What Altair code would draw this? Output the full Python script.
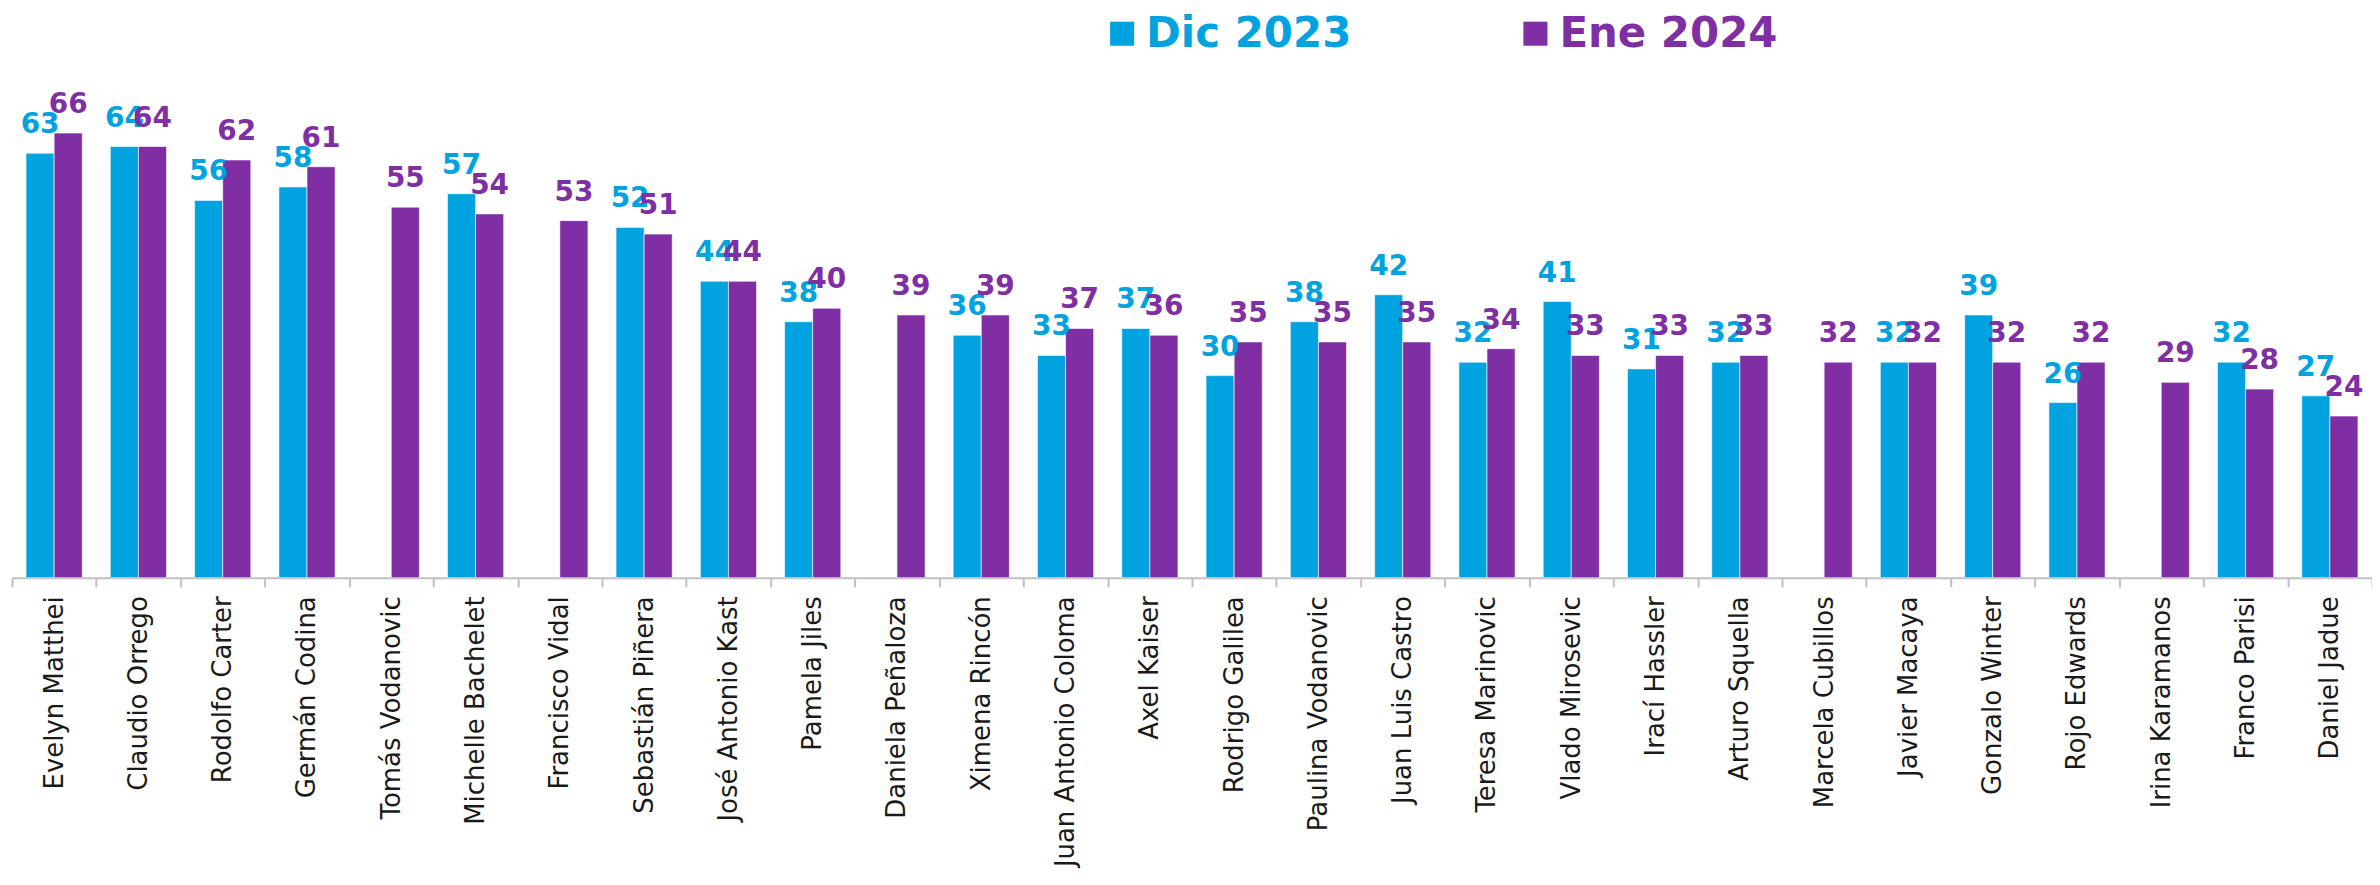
import altair as alt
import pandas as pd

names = ["Evelyn Matthei", "Claudio Orrego", "Rodolfo Carter", "Germán Codina",
         "Tomás Vodanovic", "Michelle Bachelet", "Francisco Vidal", "Sebastián Piñera",
         "José Antonio Kast", "Pamela Jiles", "Daniela Peñaloza", "Ximena Rincón",
         "Juan Antonio Coloma", "Axel Kaiser", "Rodrigo Galilea", "Paulina Vodanovic",
         "Juan Luis Castro", "Teresa Marinovic", "Vlado Mirosevic", "Irací Hassler",
         "Arturo Squella", "Marcela Cubillos", "Javier Macaya", "Gonzalo Winter",
         "Rojo Edwards", "Irina Karamanos", "Franco Parisi", "Daniel Jadue"]
dic2023 = [63, 64, 56, 58, None, 57, None, 52, 44, 38, None, 36, 33, 37, 30, 38,
           42, 32, 41, 31, 32, None, 32, 39, 26, None, 32, 27]
ene2024 = [66, 64, 62, 61, 55, 54, 53, 51, 44, 40, 39, 39, 37, 36, 35, 35,
           35, 34, 33, 33, 33, 32, 32, 32, 32, 29, 28, 24]
series = ["Dic 2023", "Ene 2024"]
colors = ["#00A3E0", "#7F2FA3"]

rows = []
for n, a, b in zip(names, dic2023, ene2024):
    if a is not None:
        rows.append({"name": n, "serie": series[0], "valor": a})
    rows.append({"name": n, "serie": series[1], "valor": b})
df = pd.DataFrame(rows)
leg = pd.DataFrame({"serie": series})

color = alt.Color("serie:N", scale=alt.Scale(domain=series, range=colors), legend=None)

x = alt.X("name:N", sort=names, title=None,
          scale=alt.Scale(paddingInner=0, paddingOuter=0),
          axis=alt.Axis(orient="bottom", labelAngle=-90, labelFont="DejaVu Sans",
                        labelFontSize=26, labelColor="#1a1a1a", labelPadding=9,
                        tickBand="extent", tickSize=9, tickColor="#BFBFBF", tickWidth=2,
                        domainColor="#BFBFBF", domainWidth=2, labelLimit=400))
y = alt.Y("valor:Q", scale=alt.Scale(domain=[0, 84.15], nice=False, zero=True),
          axis=None)
xo = alt.XOffset("serie:N", sort=series,
                 scale=alt.Scale(paddingInner=0, paddingOuter=0.5))

base = alt.Chart(df).encode(x=x, xOffset=xo, y=y, color=color)
bars = base.mark_bar(stroke="white", strokeWidth=1, strokeOpacity=0.6)
labels = base.mark_text(font="DejaVu Sans", fontWeight="bold", fontSize=28,
                        baseline="alphabetic", dy=-20).encode(text="valor:Q")
main = alt.layer(bars, labels)

lx = alt.X("serie:N", sort=series, axis=None, title=None,
           scale=alt.Scale(type="point", domain=series, range=[1112, 1526], padding=0))
legsq = alt.Chart(leg).mark_square(size=580, opacity=1).encode(
    x=lx, y=alt.value(23), color=color)
legtx = alt.Chart(leg).mark_text(font="DejaVu Sans", fontWeight="bold", fontSize=42,
                                 align="left", baseline="middle", dx=24).encode(
    x=lx, y=alt.value(23), color=color, text="serie:N")
legend = alt.layer(legsq, legtx)

chart = alt.layer(main, legend).resolve_scale(x="independent").properties(
    width=2364, height=568,
    autosize=alt.AutoSizeParams(type="none"),
    padding={"left": 4, "top": 2, "right": 0, "bottom": 305},
).configure_view(stroke=None)

chart.save("out.html", embed_options={"renderer": "svg", "actions": False})
